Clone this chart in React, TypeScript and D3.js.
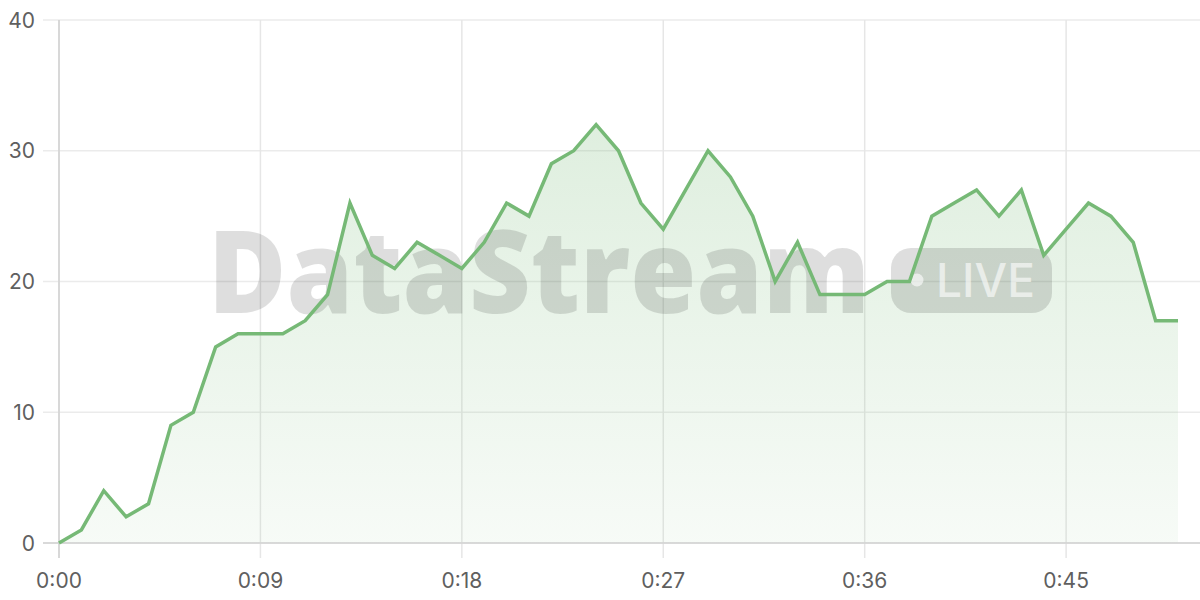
import * as d3 from 'd3';

// one reading per second, 0:00 → 0:50
const SECONDS: number[] = d3.range(0, 51);
const VALUES: number[] = [
  0, 1, 4, 2, 3, 9, 10, 15, 16, 16,
  16, 17, 19, 26, 22, 21, 23, 22, 21, 23,
  26, 25, 29, 30, 32, 30, 26, 24, 27, 30,
  28, 25, 20, 23, 19, 19, 19, 20, 20, 25,
  26, 27, 25, 27, 22, 24, 26, 25, 23, 17,
  17,
];
const X_TICKS: number[] = [0, 9, 18, 27, 36, 45];
const Y_TICKS: number[] = [0, 10, 20, 30, 40];

const W = 1200;
const H = 600;
const margin = { top: 20, right: 22, bottom: 57, left: 59 };
const LINE = '#76b976';
const FONT = 'Inter, "Liberation Sans", sans-serif';

const fmt = (s: number) => `${Math.floor(s / 60)}:${String(s % 60).padStart(2, '0')}`;

export default function App() {
  const x = d3.scaleLinear().domain([0, 50]).range([margin.left, W - margin.right]);
  const y = d3.scaleLinear().domain([0, 40]).range([H - margin.bottom, margin.top]);
  const pts = SECONDS.map((s, i) => [s, VALUES[i]] as [number, number]);

  const line = d3.line<[number, number]>().x(d => x(d[0])).y(d => y(d[1]));
  const area = d3.area<[number, number]>().x(d => x(d[0])).y0(y(0)).y1(d => y(d[1]));

  const y0 = y(0);

  return (
    <div style={{ position: 'absolute', left: 0, top: 0 }}>
      <svg width={W} height={H} style={{ display: 'block', background: '#fff' }}>
        <defs>
          <linearGradient id="fillGrad" gradientUnits="userSpaceOnUse" x1={0} x2={0} y1={y(40)} y2={y0}>
            <stop offset="0%" stopColor={LINE} stopOpacity={0.28} />
            <stop offset="100%" stopColor={LINE} stopOpacity={0.06} />
          </linearGradient>
        </defs>

        {/* Grid */}
        {Y_TICKS.map(t => (
          <g key={`y${t}`}>
            <line x1={43} x2={W} y1={y(t)} y2={y(t)} stroke="#ebebeb" strokeWidth={1.5} />
            <text x={35} y={y(t)} textAnchor="end" dominantBaseline="central" fontSize={21} fontFamily={FONT} fill="#5f5f5f">
              {t}
            </text>
          </g>
        ))}
        {X_TICKS.map(t => (
          <g key={`x${t}`}>
            <line x1={x(t)} x2={x(t)} y1={y(40)} y2={y0 + 15} stroke="#e6e6e6" strokeWidth={1.5} />
            <text x={x(t)} y={588} textAnchor="middle" fontSize={21} fontFamily={FONT} fill="#5f5f5f">
              {fmt(t)}
            </text>
          </g>
        ))}

        {/* Area */}
        <path d={area(pts) ?? ''} fill="url(#fillGrad)" />

        {/* Watermark */}
        <g>
          <text x={208} y={313} fontSize={116} fontWeight={800} fontFamily='"Open Sans", "Noto Sans", sans-serif' fill="rgba(0,0,0,0.13)" textLength={662} lengthAdjust="spacingAndGlyphs">
            DataStream
          </text>
          <rect x={891} y={248} width={161} height={65} rx={20} fill="rgba(0,0,0,0.13)" />
          <circle cx={917} cy={280} r={6.5} fill="rgba(255,255,255,0.6)" />
          <text x={936} y={297} fontSize={46} fontWeight={500} fontFamily={FONT} fill="rgba(255,255,255,0.6)">
            LIVE
          </text>
        </g>

        {/* Axes */}
        <line x1={margin.left} x2={margin.left} y1={y(40)} y2={y0 + 15} stroke="#d2d2d2" strokeWidth={1.5} />
        <line x1={43} x2={W} y1={y0} y2={y0} stroke="#d2d2d2" strokeWidth={1.5} />

        {/* Line */}
        <path d={line(pts) ?? ''} fill="none" stroke={LINE} strokeWidth={3.5} strokeLinejoin="miter" />
      </svg>
    </div>
  );
}
